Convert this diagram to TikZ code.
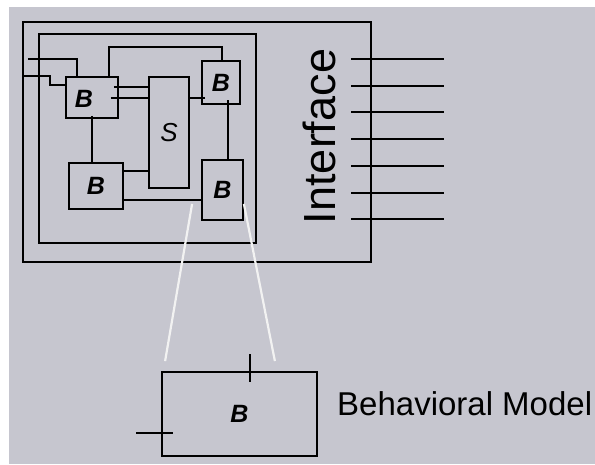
\documentclass[tikz,border=0pt]{standalone}
\usepackage{fontspec}
\setmainfont{Liberation Sans}
\usetikzlibrary{calc}
\definecolor{bgc}{RGB}{198,198,207}
\definecolor{wline}{RGB}{242,242,242}
\tikzset{
  box/.style={draw=black,line width=1.8pt,inner sep=0pt,rectangle},
  wire/.style={draw=black,line width=1.8pt},
  glow/.style={draw=wline,line width=2.2pt},
  blab/.style={font=\fontsize{25}{25}\selectfont\bfseries\itshape},
  slab/.style={font=\fontsize{26}{26}\selectfont\itshape},
}
\begin{document}
\begin{tikzpicture}[x=1pt,y=-1pt]
\useasboundingbox (0,0) rectangle (595,464);
\fill[white] (0,0) rectangle (595,464);
\fill[bgc] (9,7) rectangle (595,464);

% boxes
\node[box,minimum width=348pt,minimum height=240pt] (outer) at (197,142) {};
\node[box,minimum width=217pt,minimum height=209pt] (inner) at (147.5,138.5) {};
\node[box,minimum width=52pt,minimum height=41pt,label={[blab,xshift=-8pt,yshift=-1pt]center:B}] (b1) at (92,97.5) {};
\node[box,minimum width=40pt,minimum height=111pt,slab] (s) at (169,132.5) {S};
\node[box,minimum width=38pt,minimum height=43pt,blab] (b2) at (221,82.5) {B};
\node[box,minimum width=54pt,minimum height=46pt,blab] (b3) at (96,186) {B};
\node[box,minimum width=41pt,minimum height=60pt,blab] (b4) at (222.5,190) {B};
\node[box,minimum width=155pt,minimum height=84pt,blab] (bm) at (239.5,414) {B};

% wires
\coordinate (pa) at (28,59);
\draw[wire] (pa) -| ($(b1.north west)+(12,0)$);
\draw[wire] (outer.west |- b1.north) -- ++(28,0) |- ($(b1.north west)+(0,9)$);
\draw[wire] ($(b1.north east)+(-10,0)$) -- ++(0,-29) -| ($(b2.north west)+(21,0)$);
\draw[wire] ($(b1.north east)+(-5,11)$) coordinate (p1) -- (p1 -| s.west);
\draw[wire] ($(b1.north east)+(-8,22)$) coordinate (p2) -- (p2 -| s.west);
\draw[wire] ($(b2.north west)+(4,38)$) coordinate (q) -- (q -| s.east);
\draw[wire] ($(b2.north west)+(27,40)$) coordinate (r) -- (r |- b4.north);
\draw[wire] ($(b1.south west)+(27,-3)$) coordinate (t) -- (t |- b3.north);
\draw[wire] ($(b3.north east)+(0,9)$) coordinate (u) -- (u -| s.west);
\draw[wire] ($(b3.north east)+(0,38)$) coordinate (v) -- (v -| b4.west);

% interface pins
\foreach \y [count=\i] in {59,86,112,139,166,193,219}{
  \coordinate (pin\i a) at (351,\y);
  \coordinate (pin\i b) at (444,\y);
  \draw[wire] (pin\i a) -- (pin\i b);
}

% ticks on behavioral model
\draw[wire] ($(bm.north west)+(89,-17)$) -- ++(0,28);
\draw[wire] ($(bm.north west)+(-25,62)$) -- ++(37,0);

% zoom lines
\draw[glow] ($(b4.south west)+(-9,-17)$) -- ($(bm.north west)+(4,-10)$);
\draw[glow] ($(b4.south east)+(0,-17)$) -- ($(bm.north east)+(-43,-10)$);

% texts
\node[rotate=90,anchor=base,inner sep=0pt,font=\fontsize{45}{45}\selectfont] (iface) at (335,136.5) {Interface};
\node[anchor=base west,inner sep=0pt,font=\fontsize{33}{33}\selectfont] (bmtext) at (337,415) {Behavioral Model};
\end{tikzpicture}
\end{document}
